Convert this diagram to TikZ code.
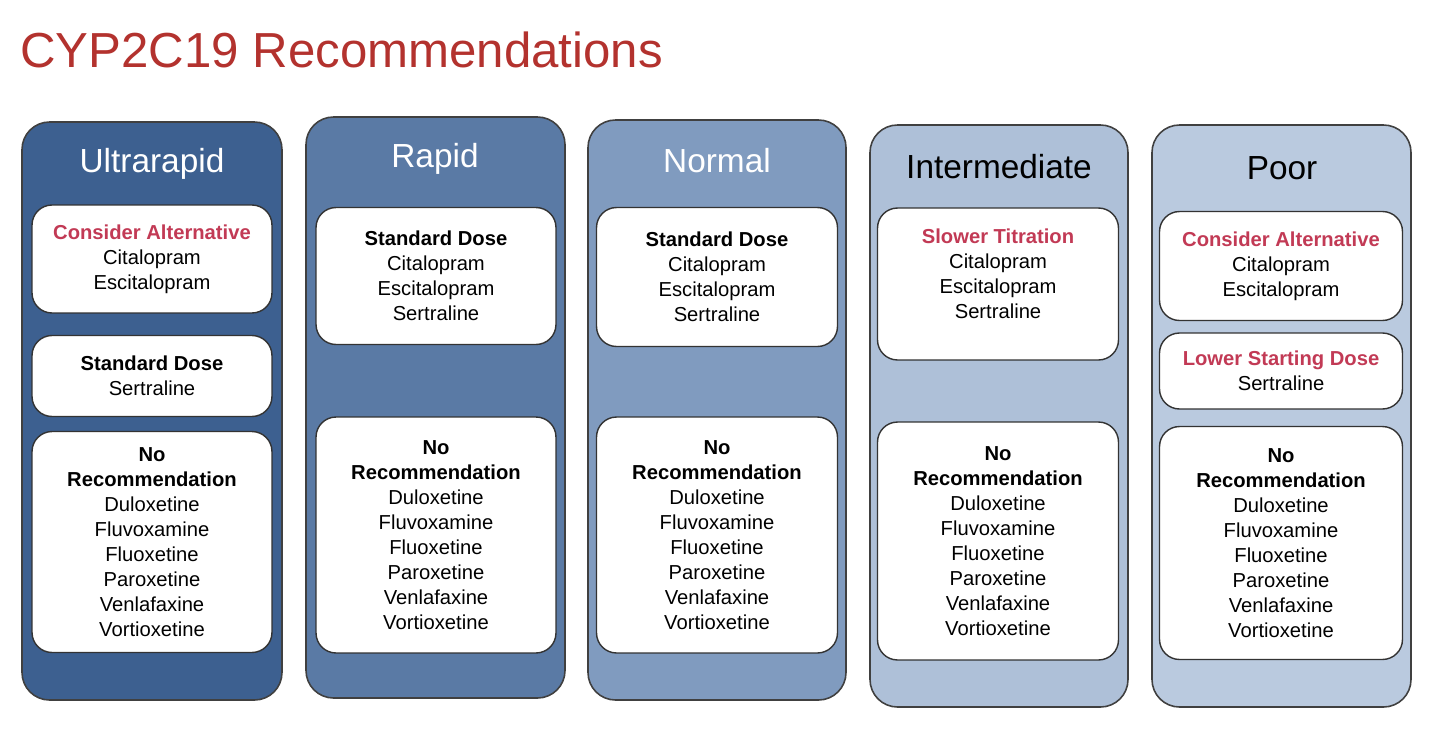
\documentclass[tikz,border=0pt]{standalone}
\usepackage{fontspec}
\setmainfont{Liberation Sans}
\definecolor{titlered}{HTML}{B3322E}
\definecolor{altred}{HTML}{C23A55}
\definecolor{colA}{HTML}{3D6090}
\definecolor{colB}{HTML}{5A7AA5}
\definecolor{colC}{HTML}{809BBF}
\definecolor{colD}{HTML}{AEC0D8}
\definecolor{colE}{HTML}{BACADF}
\tikzset{
  panel/.style={draw=black!75, line width=0.9pt, rounded corners=0.55cm},
  entry/.style={draw=black!80, line width=0.8pt, fill=white, rounded corners=0.4cm,
    align=center, font=\fontsize{11.5}{14.2}\selectfont, inner sep=0pt},
  phead/.style={font=\fontsize{19}{22}\selectfont},
}
\newcommand{\alt}[1]{\textcolor{altred}{\textbf{#1}}}
\newcommand{\norec}{\textbf{No}\\\textbf{Recommendation}\\Duloxetine\\Fluvoxamine\\Fluoxetine\\Paroxetine\\Venlafaxine\\Vortioxetine}
\begin{document}
\begin{tikzpicture}[x=0.02cm,y=-0.02cm]
\useasboundingbox (0,0) rectangle (1440,734);
\node[anchor=west, text=titlered, font=\fontsize{28}{32}\selectfont] (title) at (14,50) {CYP2C19 Recommendations};

% Ultrarapid
\fill[colA, panel] (22,122) rectangle (282,700);
\node[phead, text=white] (ultra) at (152,164) {Ultrarapid};
\node[entry, minimum width=4.8cm, minimum height=2.16cm] (ua) at (152,259)
  {\alt{Consider Alternative}\\Citalopram\\Escitalopram};
\node[entry, minimum width=4.8cm, minimum height=1.62cm] (ub) at (152,376)
  {\textbf{Standard Dose}\\Sertraline};
\node[entry, minimum width=4.8cm, minimum height=4.42cm] (uc) at (152,542) {\norec};

% Rapid
\fill[colB, panel] (306,117) rectangle (565,698);
\node[phead, text=white] (rapid) at (435,159) {Rapid};
\node[entry, minimum width=4.8cm, minimum height=2.74cm] (ra) at (436,276)
  {\textbf{Standard Dose}\\Citalopram\\Escitalopram\\Sertraline};
\node[entry, minimum width=4.8cm, minimum height=4.72cm] (rc) at (436,535) {\norec};

% Normal
\fill[colC, panel] (588,120) rectangle (846,700);
\node[phead, text=white] (normal) at (717,161) {Normal};
\node[entry, minimum width=4.82cm, minimum height=2.78cm] (na) at (717,277)
  {\textbf{Standard Dose}\\Citalopram\\Escitalopram\\Sertraline};
\node[entry, minimum width=4.82cm, minimum height=4.72cm] (nc) at (717,535) {\norec};

% Intermediate
\fill[colD, panel] (870,125) rectangle (1128,707);
\node[phead] (inter) at (999,167) {Intermediate};
\node[entry, minimum width=4.82cm, minimum height=3.04cm] (ia) at (998,284) {};
\node[align=center, font=\fontsize{11.5}{14.2}\selectfont, inner sep=0pt] (iat) at (998,274)
  {\alt{Slower Titration}\\Citalopram\\Escitalopram\\Sertraline};
\node[entry, minimum width=4.82cm, minimum height=4.76cm] (ic) at (998,541) {\norec};

% Poor
\fill[colE, panel] (1152,125) rectangle (1411,707);
\node[phead] (poor) at (1282,168) {Poor};
\node[entry, minimum width=4.86cm, minimum height=2.18cm] (pa) at (1281,266)
  {\alt{Consider Alternative}\\Citalopram\\Escitalopram};
\node[entry, minimum width=4.86cm, minimum height=1.52cm] (pb) at (1281,371)
  {\alt{Lower Starting Dose}\\Sertraline};
\node[entry, minimum width=4.86cm, minimum height=4.66cm] (pc) at (1281,543) {\norec};
\end{tikzpicture}
\end{document}
